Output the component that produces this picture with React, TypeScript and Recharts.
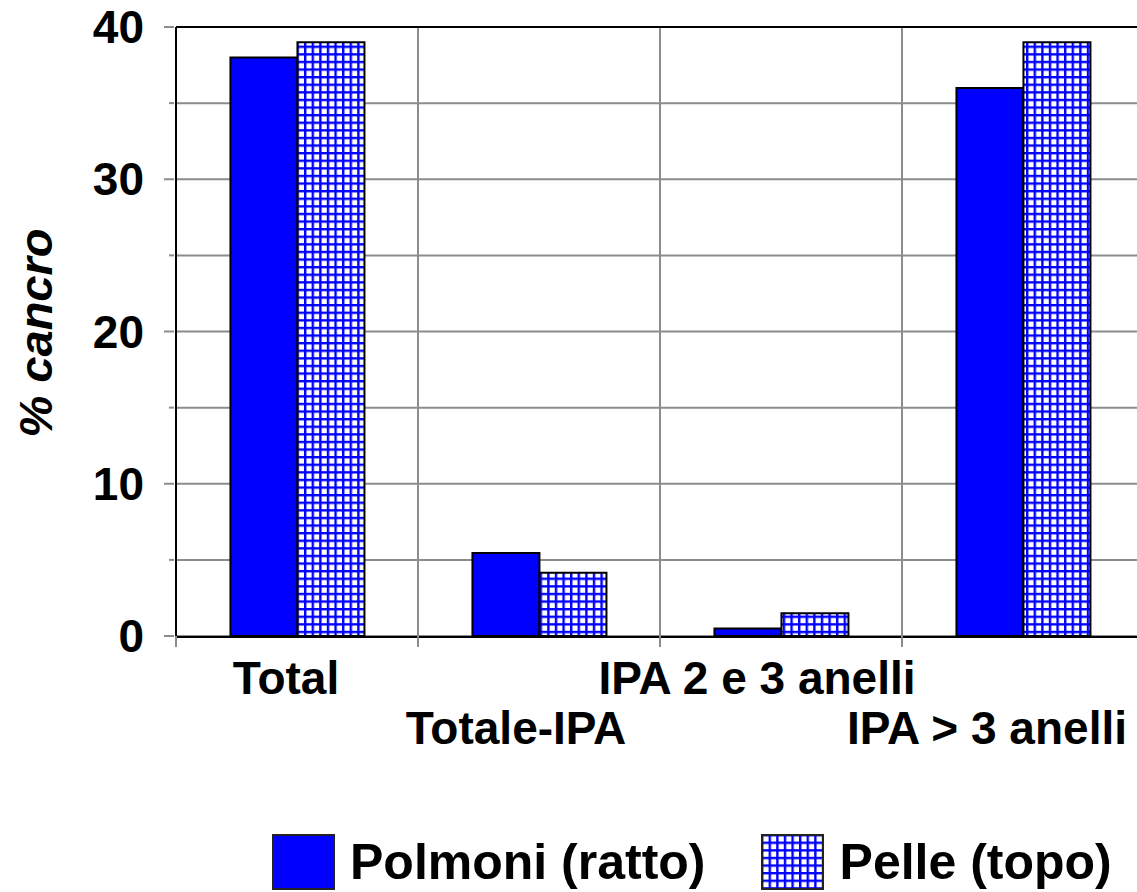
import {
  Bar,
  BarChart,
  CartesianGrid,
  Legend,
  ReferenceLine,
  XAxis,
  YAxis,
} from "recharts";

const categories = ["Total", "Totale-IPA", "IPA 2 e 3 anelli", "IPA > 3 anelli"];
const slots = [0.5, 1.5, 2.5, 3.5];
const polmoni = [38, 5.45, 0.5, 36];
const pelle = [39, 4.15, 1.5, 39];
const yTicks = [0, 5, 10, 15, 20, 25, 30, 35, 40];
const boundaryTicks = [0, 1, 2, 3, 4];
const seriesNames = ["Polmoni (ratto)", "Pelle (topo)"];

const data = categories.map((name, i) => ({
  name,
  slot: slots[i],
  polmoni: polmoni[i],
  pelle: pelle[i],
}));

const FONT = '"Liberation Sans", Arial, sans-serif';
const BLUE = "#0000ff";
const GRID = "#8c8c8c";

function GridPattern({ id }: { id: string }) {
  return (
    <pattern id={id} patternUnits="userSpaceOnUse" width={7.6} height={7.6}>
      <rect width={7.6} height={7.6} fill="#ffffff" />
      <path d="M0 1.2 H7.6 M1.2 0 V7.6" stroke={BLUE} strokeWidth={2.4} />
    </pattern>
  );
}

function YTick(props: any) {
  const { x, y, payload } = props;
  const major = payload.value % 10 === 0;
  return (
    <g>
      <line x1={x - (major ? 10 : 5)} x2={x} y1={y} y2={y} stroke={GRID} strokeWidth={2} />
      {major && (
        <text
          x={x - 30}
          y={y}
          dy={16}
          textAnchor="end"
          fontFamily={FONT}
          fontWeight="bold"
          fontSize={46}
          fill="#000"
        >
          {payload.value}
        </text>
      )}
    </g>
  );
}

// labels sit a bit left of the category centre, more so towards the right
const labelShift = [-11, -23, -24, -36];

function XTick(props: any) {
  const { x, y, payload, index } = props;
  return (
    <text
      x={x + labelShift[index]}
      y={y + (index % 2 === 0 ? 55 : 105)}
      textAnchor="middle"
      fontFamily={FONT}
      fontWeight="bold"
      fontSize={46}
      fill="#000"
    >
      {payload.value}
    </text>
  );
}

function LegendContent() {
  const swatch = (patterned: boolean) => (
    <svg width={63} height={56} style={{ display: "block" }}>
      <defs>
        <GridPattern id="legendGrid" />
      </defs>
      <rect
        x={1}
        y={1}
        width={61}
        height={54}
        fill={patterned ? "url(#legendGrid)" : BLUE}
        stroke="#222"
        strokeWidth={2}
      />
    </svg>
  );
  return (
    <div
      style={{
        display: "flex",
        alignItems: "center",
        paddingLeft: 272,
        fontFamily: FONT,
        fontWeight: "bold",
        fontSize: 50,
        color: "#000",
        lineHeight: "56px",
      }}
    >
      {swatch(false)}
      <span style={{ marginLeft: 15, marginRight: 55 }}>{seriesNames[0]}</span>
      {swatch(true)}
      <span style={{ marginLeft: 16 }}>{seriesNames[1]}</span>
    </div>
  );
}

export default function App() {
  return (
    <div
      style={{
        position: "absolute",
        left: 0,
        top: 0,
        width: 1137,
        height: 892,
        overflow: "hidden",
        background: "#fff",
      }}
    >
      <BarChart
        width={1150}
        height={892}
        data={data}
        margin={{ top: 27, right: 6, left: 26, bottom: 87 }}
        barCategoryGap="22.5%"
        barGap={0}
      >
        <defs>
          <GridPattern id="pelleGrid" />
        </defs>
        <CartesianGrid xAxisId="a0" stroke={GRID} strokeWidth={2} />
        <XAxis
          xAxisId="b1"
          dataKey="name"
          interval={0}
          tick={<XTick />}
          tickLine={false}
          tickSize={0}
          axisLine={{ stroke: "#000", strokeWidth: 2 }}
          height={110}
        />
        <XAxis
          xAxisId="a0"
          dataKey="slot"
          type="number"
          domain={[0, 4]}
          allowDataOverflow
          ticks={boundaryTicks}
          interval={0}
          tick={() => <g />}
          axisLine={false}
          tickLine={{ stroke: GRID, strokeWidth: 2 }}
          tickSize={11}
          height={1}
        />
        <YAxis
          domain={[0, 40]}
          ticks={yTicks}
          interval={0}
          width={150}
          tick={<YTick />}
          tickLine={false}
          tickSize={0}
          axisLine={{ stroke: "#000", strokeWidth: 2 }}
          label={{
            content: () => (
              <text
                x={35}
                y={333}
                transform="rotate(-90 35 333)"
                textAnchor="middle"
                dominantBaseline="central"
                fontFamily={FONT}
                fontWeight="bold"
                fontStyle="italic"
                fontSize={47}
                fill="#000"
              >
                % cancro
              </text>
            ),
          }}
        />
        <ReferenceLine xAxisId="b1" y={40} stroke="#000" strokeWidth={2} />
        <Legend
          verticalAlign="bottom"
          content={<LegendContent />}
          wrapperStyle={{ left: 0, top: 834, width: 1137, height: 58 }}
        />
        <Bar
          xAxisId="b1"
          dataKey="polmoni"
          name={seriesNames[0]}
          fill={BLUE}
          stroke="#000"
          strokeWidth={2}
          isAnimationActive={false}
        />
        <Bar
          xAxisId="b1"
          dataKey="pelle"
          name={seriesNames[1]}
          fill="url(#pelleGrid)"
          stroke="#000"
          strokeWidth={2}
          isAnimationActive={false}
        />
      </BarChart>
    </div>
  );
}
